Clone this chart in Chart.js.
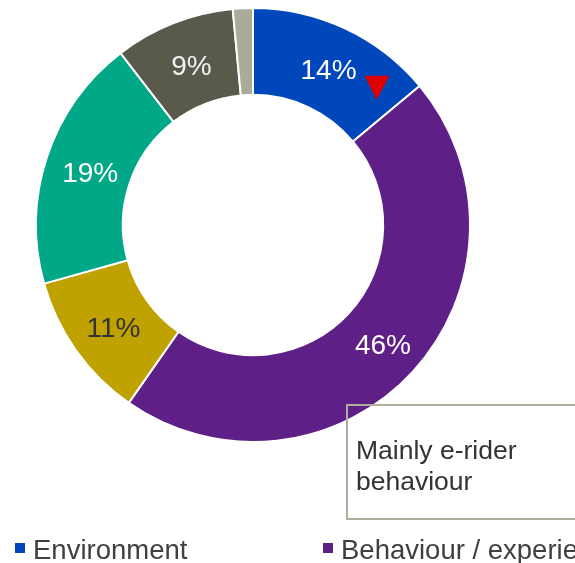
<!DOCTYPE html>
<html>
<head>
<meta charset="utf-8">
<script src="https://cdn.jsdelivr.net/npm/chart.js@4/dist/chart.umd.min.js"></script>
<style>
  html, body { margin: 0; padding: 0; background: #fff; overflow: hidden; }
  #wrap { position: relative; width: 575px; height: 563px; }
</style>
</head>
<body>
<div id="wrap"><canvas id="donut" width="575" height="563"></canvas></div>
<script>
// Categorías y porcentajes
const categories = ['Environment', 'Behaviour / experience', 'Infrastructure', 'Vehicle', 'Other road users', 'Unknown'];
const shares = [14, 46, 11, 19, 9, 1.5];
const showLabel = [true, true, true, true, true, false];
const sliceColors = ['#0047BB', '#5E1F87', '#BFA100', '#00A887', '#5A5A4C', '#ABAB9B'];
const labelColors = ['#ffffff', '#ffffff', '#333333', '#ffffff', '#f2f2f2', '#ffffff'];
const noteLines = ['Mainly e-rider', 'behaviour'];

const FONT = '"Liberation Sans", Arial, sans-serif';

// Etiquetas de porcentaje en el centro de cada sector + flecha roja en "Environment"
const sliceLabels = {
    id: 'sliceLabels',
    afterDatasetsDraw(chart) {
        const ctx = chart.ctx;
        const arcs = chart.getDatasetMeta(0).data;
        ctx.save();
        ctx.font = '28px ' + FONT;
        ctx.textAlign = 'center';
        ctx.textBaseline = 'middle';
        arcs.forEach((arc, i) => {
            if (!showLabel[i]) return;
            const p = arc.tooltipPosition();
            ctx.fillStyle = labelColors[i];
            ctx.fillText(shares[i] + '%', p.x + 2, p.y + 4);
        });
        // triángulo rojo (tendencia a la baja)
        const p0 = arcs[0].tooltipPosition();
        const tx = p0.x + 50, ty = p0.y + 8;
        ctx.fillStyle = '#E00000';
        ctx.beginPath();
        ctx.moveTo(tx - 12, ty);
        ctx.lineTo(tx + 13, ty);
        ctx.lineTo(tx, ty + 24);
        ctx.closePath();
        ctx.fill();
        ctx.restore();
    }
};

// Cuadro de nota y leyenda en una sola fila
const extras = {
    id: 'extras',
    afterDraw(chart) {
        const ctx = chart.ctx;
        ctx.save();
        // nota
        ctx.strokeStyle = '#ADADA0';
        ctx.lineWidth = 2;
        ctx.strokeRect(347, 405, 260, 114);
        ctx.fillStyle = '#333333';
        ctx.font = '26.5px ' + FONT;
        ctx.textAlign = 'left';
        ctx.textBaseline = 'alphabetic';
        noteLines.forEach((t, i) => ctx.fillText(t, 356, 459 + i * 31));
        // leyenda
        ctx.font = '27.5px ' + FONT;
        ctx.textBaseline = 'middle';
        categories.forEach((c, i) => {
            const x = 15 + i * 308;
            ctx.fillStyle = sliceColors[i];
            ctx.fillRect(x, 543, 10, 10);
            ctx.fillStyle = '#404040';
            ctx.fillText(c, x + 18, 551);
        });
        ctx.restore();
    }
};

new Chart(document.getElementById('donut'), {
    type: 'doughnut',
    data: {
        labels: categories,
        datasets: [{
            data: shares,
            backgroundColor: sliceColors,
            borderColor: '#ffffff',
            borderWidth: 2,
            hoverOffset: 0
        }]
    },
    options: {
        responsive: false,
        animation: false,
        cutout: '60%',
        rotation: 0,
        layout: { padding: { left: 35, top: 7, right: 104, bottom: 120 } },
        plugins: {
            legend: { display: false },
            tooltip: { enabled: false }
        }
    },
    plugins: [sliceLabels, extras]
});
</script>
</body>
</html>
